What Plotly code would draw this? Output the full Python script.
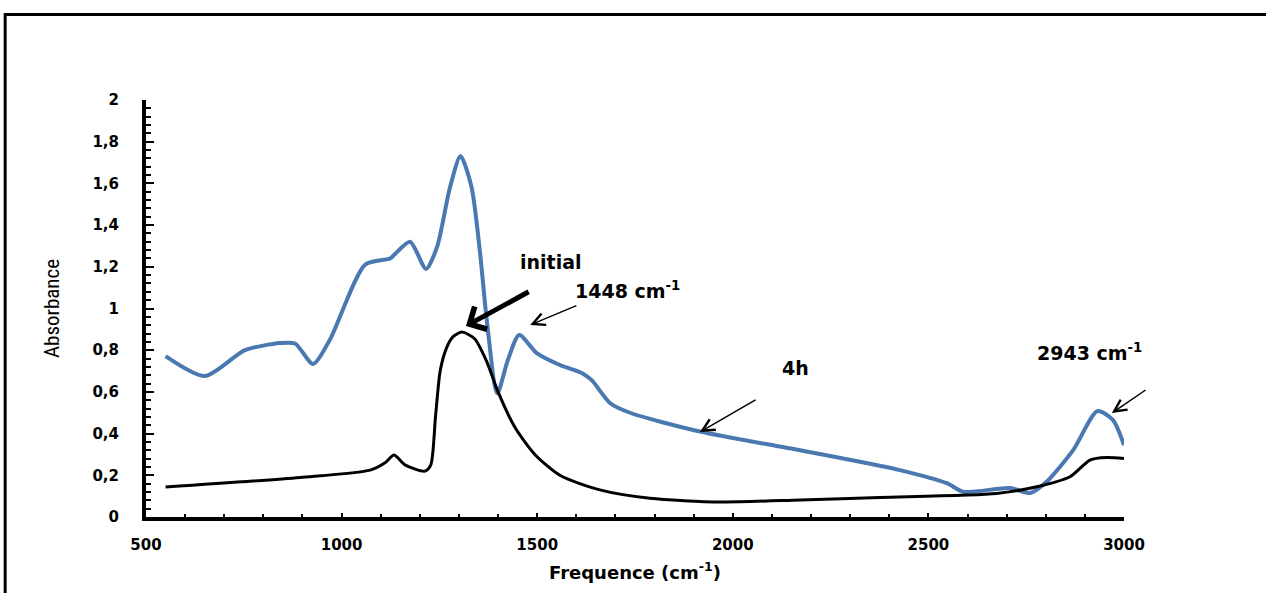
import plotly.graph_objects as go

# ---- data ----
x_4h = [550, 651, 753, 843, 881, 927, 970, 1060, 1124, 1136, 1175, 1216, 1244, 1277, 1304,
        1332, 1354, 1371, 1398, 1425, 1454, 1499, 1558, 1615, 1640, 1686, 1737, 1916, 2172,
        2427, 2547, 2589, 2709, 2760, 2802, 2870, 2932, 2972, 3000]
y_4h = [0.772, 0.676, 0.80, 0.834, 0.832, 0.734, 0.85, 1.21, 1.24, 1.26, 1.32, 1.19, 1.295, 1.58, 1.731,
        1.584, 1.266, 0.945, 0.593, 0.753, 0.873, 0.786, 0.729, 0.69, 0.655, 0.547, 0.50, 0.41, 0.32,
        0.225, 0.162, 0.121, 0.139, 0.115, 0.169, 0.321, 0.508, 0.465, 0.345]

x_init = [550, 894, 1073, 1111, 1134, 1162, 1213, 1228, 1240, 1252, 1268, 1285, 1308, 1340, 1370, 1400, 1443, 1494,
          1558, 1660, 1788, 1967, 2172, 2376, 2674, 2777, 2862, 2913, 2956, 3000]
y_init = [0.144, 0.19, 0.225, 0.26, 0.297, 0.25, 0.22, 0.25, 0.48, 0.70, 0.81, 0.865, 0.887, 0.855, 0.75, 0.60, 0.43, 0.30,
          0.20, 0.13, 0.09, 0.072, 0.082, 0.094, 0.113, 0.145, 0.193, 0.273, 0.285, 0.28]

y_tickvals = [0, 0.2, 0.4, 0.6, 0.8, 1, 1.2, 1.4, 1.6, 1.8, 2]
y_ticktext = ["0", "0,2", "0,4", "0,6", "0,8", "1", "1,2", "1,4", "1,6", "1,8", "2"]
x_tickvals = [500, 1000, 1500, 2000, 2500, 3000]
x_ticktext = ["500", "1000", "1500", "2000", "2500", "3000"]

labels = ["initial", "1448 cm<sup>-1</sup>", "4h", "2943 cm<sup>-1</sup>"]
label_x = [1535, 1730, 2159, 2913]
label_y = [1.223, 1.089, 0.715, 0.791]

arrow_head_x = [1318, 1482, 1916, 2969]
arrow_head_y = [0.916, 0.921, 0.408, 0.499]
arrow_tail_x = [1482, 1604, 2062, 3059]
arrow_tail_y = [1.084, 1.017, 0.566, 0.614]
arrow_width = [5, 1.5, 1.5, 1.5]

BOLD = "DejaVu Sans"

fig = go.Figure()
fig.add_trace(go.Scatter(x=x_4h, y=y_4h, mode="lines", name="4h",
                         line=dict(color="#4A78B0", width=4, shape="spline", smoothing=0.7)))
fig.add_trace(go.Scatter(x=x_init, y=y_init, mode="lines", name="initial",
                         line=dict(color="black", width=3, shape="spline", smoothing=0.7)))

annotations = []
for t, lx, ly in zip(labels, label_x, label_y):
    annotations.append(dict(x=lx, y=ly, xref="x", yref="y", text=t,
                            showarrow=False, font=dict(family=BOLD, size=19, color="black", weight="bold")))
for hx, hy, tx, ty, w in zip(arrow_head_x, arrow_head_y, arrow_tail_x, arrow_tail_y, arrow_width):
    annotations.append(dict(x=hx, y=hy, ax=tx, ay=ty, xref="x", yref="y", axref="x", ayref="y",
                            text="", showarrow=True, arrowhead=4 if w > 2 else 5,
                            arrowsize=1 if w > 2 else 1.6, arrowwidth=w, arrowcolor="black"))

fig.update_layout(
    width=1266, height=593,
    margin=dict(l=146, r=142, t=100, b=76),
    paper_bgcolor="white", plot_bgcolor="white",
    showlegend=False,
    annotations=annotations,
    shapes=[dict(type="rect", xref="paper", yref="paper", x0=-0.144, x1=1.3, y0=-0.4, y1=1.205,
                 line=dict(color="black", width=3), fillcolor="rgba(0,0,0,0)", layer="below")],
    xaxis=dict(range=[500, 3000], tickvals=x_tickvals, ticktext=x_ticktext,
               showgrid=False, zeroline=False, showline=True, linecolor="black", linewidth=4,
               ticks="inside", ticklen=4, tickwidth=2, tickcolor="black",
               minor=dict(dtick=100, tick0=500, ticks="inside", ticklen=3, tickwidth=2, tickcolor="black", showgrid=False),
               tickfont=dict(family=BOLD, size=15, color="black", weight="bold"), ticklabelstandoff=11,
               title=dict(text="Frequence (cm<sup>-1</sup>)",
                          font=dict(family=BOLD, size=18, color="black", weight="bold"),
                          standoff=14)),
    yaxis=dict(range=[0, 2], tickvals=y_tickvals, ticktext=y_ticktext,
               showgrid=False, zeroline=False, showline=True, linecolor="black", linewidth=4,
               ticks="inside", ticklen=8, tickwidth=2, tickcolor="black",
               minor=dict(dtick=0.04, tick0=0, ticks="inside", ticklen=5, tickwidth=2, tickcolor="black", showgrid=False),
               tickfont=dict(family=BOLD, size=15, color="black", weight="bold"), ticklabelstandoff=20,
               title=dict(text="Absorbance",
                          font=dict(family="Liberation Sans Narrow, Arial Narrow, Roboto Condensed, Liberation Sans",
                                    size=21, color="black"),
                          standoff=28)),
)

fig.write_html("out.html")
